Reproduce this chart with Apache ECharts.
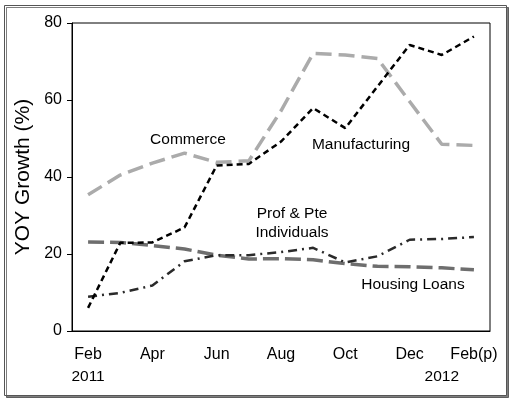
<!DOCTYPE html>
<html>
<head>
<meta charset="utf-8">
<script src="https://cdn.jsdelivr.net/npm/echarts@6/dist/echarts.min.js"></script>
<style>
  html, body { margin: 0; padding: 0; background: #fff; }
  #chart { width: 511px; height: 401px; }
</style>
</head>
<body>
<div id="chart"></div>
<script>
// months Feb 2011 .. Feb 2012 (p)
const months = ['Feb', 'Mar', 'Apr', 'May', 'Jun', 'Jul', 'Aug', 'Sep', 'Oct', 'Nov', 'Dec', 'Jan', 'Feb(p)'];
const monthLabels = ['Feb', '', 'Apr', '', 'Jun', '', 'Aug', '', 'Oct', '', 'Dec', '', 'Feb(p)'];
const yearLabels = ['2011', '', '', '', '', '', '', '', '', '', '', '2012', ''];

const commerce = [35.4, 40.5, 43.6, 46.2, 43.8, 44.2, 57.2, 72.1, 71.7, 70.8, 59.6, 48.5, 48.2];
const manufacturing = [6.0, 22.9, 23.0, 26.9, 43.0, 43.4, 49.2, 57.9, 52.7, 63.5, 74.3, 71.7, 76.5];
const profPte = [8.9, 9.9, 11.8, 18.1, 19.7, 19.7, 20.5, 21.6, 17.8, 19.4, 23.7, 23.9, 24.4];
const housing = [23.1, 23.0, 22.2, 21.3, 19.7, 18.7, 18.8, 18.5, 17.5, 16.8, 16.7, 16.4, 15.9];

const chart = echarts.init(document.getElementById('chart'));
const font = 'Liberation Sans, Arial, sans-serif';

chart.setOption({
  backgroundColor: '#fff',
  animation: false,
  textStyle: { fontFamily: font },
  grid: {
    left: 72, right: 21, top: 23, bottom: 70,
    show: true, borderColor: '#000', borderWidth: 1
  },
  xAxis: {
    type: 'category',
    data: months,
    boundaryGap: true,
    axisLine: { lineStyle: { color: '#000', width: 1 } },
    axisTick: { alignWithLabel: true, interval: 0, length: 4, lineStyle: { color: '#000' } },
    axisLabel: {
      interval: 0,
      margin: 15,
      color: '#000',
      fontSize: 16,
      lineHeight: 18,
      fontFamily: font,
      formatter: function (v, i) {
        let s = monthLabels[i];
        if (yearLabels[i]) s += '\n{yr|' + yearLabels[i] + '}';
        return s;
      },
      rich: { yr: { fontSize: 15.5, lineHeight: 18, color: '#000', fontFamily: font, padding: [7, 0, 0, 0] } }
    }
  },
  yAxis: {
    type: 'value',
    min: 0, max: 80, interval: 20,
    name: 'YOY Growth (%)',
    nameLocation: 'middle',
    nameGap: 33,
    nameTextStyle: { fontSize: 21, color: '#000', fontFamily: font },
    axisLine: { show: true, lineStyle: { color: '#000' } },
    axisTick: { show: true, length: 5, lineStyle: { color: '#000' } },
    axisLabel: { color: '#000', fontSize: 16, margin: 10, fontFamily: font },
    splitLine: { show: false }
  },
  series: [
    {
      name: 'Commerce', type: 'line', data: commerce, symbol: 'none', z: 2,
      lineStyle: { color: '#ababab', width: 3.5, type: [16, 7] }
    },
    {
      name: 'Housing Loans', type: 'line', data: housing, symbol: 'none', z: 3,
      lineStyle: { color: '#6e6e6e', width: 3.5, type: [16, 6] }
    },
    {
      name: 'Prof & Pte Individuals', type: 'line', data: profPte, symbol: 'none', z: 4,
      lineStyle: { color: '#2a2a2a', width: 2.5, type: [9, 5, 2, 5] }
    },
    {
      name: 'Manufacturing', type: 'line', data: manufacturing, symbol: 'none', z: 5,
      lineStyle: { color: '#000', width: 2.5, type: [6, 4] }
    }
  ],
  graphic: [
    {
      type: 'rect', left: 4, top: 5, z: -10,
      shape: { width: 502, height: 390 },
      style: { fill: '#fff', stroke: '#555', lineWidth: 1, shadowColor: 'rgba(0,0,0,0.5)', shadowOffsetX: 2, shadowOffsetY: 2, shadowBlur: 0 }
    },
    { type: 'text', x: 188, y: 140, style: { text: 'Commerce', fontSize: 15.5, align: 'center', verticalAlign: 'middle', fill: '#000', fontFamily: font } },
    { type: 'text', x: 361, y: 145, style: { text: 'Manufacturing', fontSize: 15.5, align: 'center', verticalAlign: 'middle', fill: '#000', fontFamily: font } },
    { type: 'text', x: 292, y: 223, style: { text: 'Prof & Pte\nIndividuals', fontSize: 15.5, lineHeight: 19, align: 'center', verticalAlign: 'middle', fill: '#000', fontFamily: font } },
    { type: 'text', x: 413, y: 285, style: { text: 'Housing Loans', fontSize: 15.5, align: 'center', verticalAlign: 'middle', fill: '#000', fontFamily: font } }
  ]
});
</script>
</body>
</html>
